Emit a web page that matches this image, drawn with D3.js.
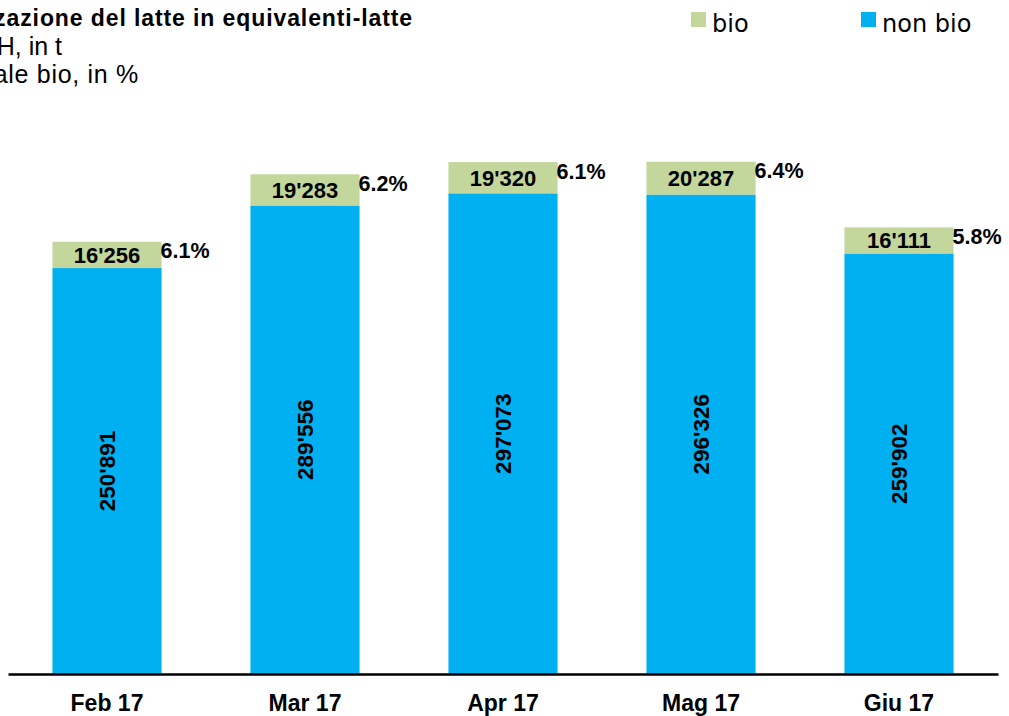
<!DOCTYPE html>
<html>
<head>
<meta charset="utf-8">
<script src="https://cdn.jsdelivr.net/npm/d3@7"></script>
<style>
  html, body { margin: 0; padding: 0; background: #fff; }
  svg { display: block; }
</style>
</head>
<body>
<svg id="chart" width="1009" height="716"></svg>
<script>
// Monthly milk utilisation, organic (bio) vs conventional (non bio), tonnes
const months = ["Feb 17", "Mar 17", "Apr 17", "Mag 17", "Giu 17"];
const nonBio = [250891, 289556, 297073, 296326, 259902];
const bio = [16256, 19283, 19320, 20287, 16111];
const seriesNames = ["bio", "non bio"];
const seriesColors = ["#C3D69B", "#00B0F0"];
const titleLines = [
  "Utilizzazione del latte in equivalenti-latte",
  "Totale CH, in t",
  "Quota percentuale bio, in %"
];

const rows = months.map((m, i) => ({
  month: m,
  nonBio: nonBio[i],
  bio: bio[i],
  share: bio[i] / (bio[i] + nonBio[i]) * 100
}));

const svg = d3.select("#chart");
const font = "'Liberation Sans', Arial, sans-serif";

const fmtLocale = d3.formatLocale({ decimal: ".", thousands: "'", grouping: [3], currency: ["", ""] });
const fmtT = fmtLocale.format(",d");
const fmtPct = d3.format(".1f");

const x = d3.scaleBand().domain(months).range([8, 998]).paddingInner(0.449).paddingOuter(0.2245);
const y = d3.scaleLinear().domain([0, 400000]).range([674, 26.8]);

// Title block, right-aligned so it runs off the left edge
const title = svg.append("g").attr("font-family", font).attr("fill", "#000").attr("text-anchor", "end");
title.append("text").attr("x", 413).attr("y", 26).attr("font-size", 23).attr("font-weight", "bold")
  .style("letter-spacing", "0.9px").text(titleLines[0]);
title.append("text").attr("x", 62).attr("y", 55).attr("font-size", 25).text(titleLines[1]);
title.append("text").attr("x", 139).attr("y", 83).attr("font-size", 25)
  .style("letter-spacing", "0.7px").text(titleLines[2]);

// Legend
const legendX = [691, 861];
const legend = svg.append("g").attr("font-family", "'DejaVu Sans', sans-serif");
seriesNames.forEach((name, i) => {
  legend.append("rect").attr("x", legendX[i]).attr("y", 12).attr("width", 15).attr("height", 15).attr("fill", seriesColors[i]);
  legend.append("text").attr("x", legendX[i] + 21).attr("y", 32).attr("font-size", 24).attr("fill", "#000").text(name);
});

// Stacked bars
const bars = svg.append("g");
bars.selectAll("rect.nonbio").data(rows).join("rect")
  .attr("class", "nonbio")
  .attr("x", d => x(d.month)).attr("width", x.bandwidth())
  .attr("y", d => y(d.nonBio)).attr("height", d => y(0) - y(d.nonBio))
  .attr("fill", seriesColors[1]);
bars.selectAll("rect.bio").data(rows).join("rect")
  .attr("class", "bio")
  .attr("x", d => x(d.month)).attr("width", x.bandwidth())
  .attr("y", d => y(d.nonBio + d.bio)).attr("height", d => y(d.nonBio) - y(d.nonBio + d.bio))
  .attr("fill", seriesColors[0]);

// Value labels
const labels = svg.append("g").attr("font-family", font).attr("font-weight", "bold").attr("fill", "#000");
labels.selectAll("text.bioLbl").data(rows).join("text")
  .attr("class", "bioLbl")
  .attr("x", d => x(d.month) + x.bandwidth() / 2)
  .attr("y", d => (y(d.nonBio) + y(d.nonBio + d.bio)) / 2)
  .attr("dy", "0.36em")
  .attr("text-anchor", "middle").attr("font-size", 22)
  .text(d => fmtT(d.bio));
labels.selectAll("text.nonLbl").data(rows).join("text")
  .attr("class", "nonLbl")
  .attr("transform", d => `translate(${x(d.month) + x.bandwidth() / 2},${(y(0) + y(d.nonBio)) / 2}) rotate(-90)`)
  .attr("dy", "0.36em")
  .attr("text-anchor", "middle").attr("font-size", 22.5)
  .text(d => fmtT(d.nonBio));
labels.selectAll("text.pct").data(rows).join("text")
  .attr("class", "pct")
  .attr("x", d => x(d.month) + x.bandwidth() - 1)
  .attr("y", d => y(d.nonBio + d.bio) + 9)
  .attr("dy", "0.36em")
  .attr("text-anchor", "start").attr("font-size", 21.5)
  .text(d => fmtPct(d.share) + "%");

// Category axis
const axis = svg.append("g").attr("transform", `translate(0,${y(0)})`)
  .call(d3.axisBottom(x).tickSize(0).tickPadding(21).tickSizeOuter(0));
axis.select(".domain").attr("stroke", "#000").attr("stroke-width", 2.5);
axis.selectAll("text").attr("font-family", font).attr("font-size", 23).attr("font-weight", "bold").attr("fill", "#000");
</script>
</body>
</html>
